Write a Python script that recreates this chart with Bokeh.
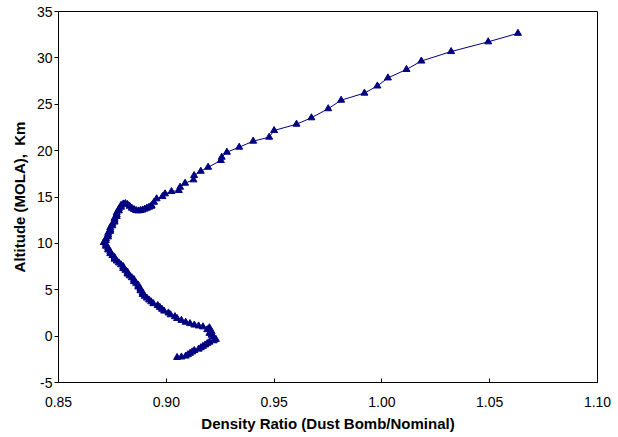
from bokeh.plotting import figure
from bokeh.models import FixedTicker, Range1d, NumeralTickFormatter, ColumnDataSource
from bokeh.embed import file_html
from bokeh.resources import INLINE

# Values (density ratio, altitude in km), ordered along the curve
density_ratio = [
    0.905, 0.907, 0.909, 0.910, 0.911, 0.912, 0.913, 0.915, 0.916, 0.917,
    0.918, 0.919, 0.920, 0.922, 0.923,
    0.922, 0.921, 0.920, 0.921, 0.919, 0.920, 0.917, 0.915, 0.913, 0.911,
    0.909, 0.907, 0.905, 0.904, 0.902, 0.901, 0.899, 0.898, 0.897, 0.896,
    0.894, 0.893, 0.892, 0.891, 0.890, 0.889, 0.889, 0.888, 0.888, 0.887,
    0.887, 0.886, 0.885, 0.885, 0.884, 0.883, 0.882, 0.882, 0.881, 0.880,
    0.880, 0.879, 0.878, 0.877, 0.876, 0.876, 0.875, 0.874, 0.874, 0.873,
    0.873, 0.872, 0.872, 0.871, 0.872, 0.872, 0.873, 0.873, 0.873, 0.874,
    0.874, 0.874, 0.875, 0.875, 0.876, 0.876, 0.876, 0.877, 0.877, 0.877,
    0.878, 0.878, 0.879, 0.879, 0.880, 0.881, 0.882, 0.883, 0.884, 0.885,
    0.886, 0.887, 0.888, 0.889, 0.890, 0.891, 0.892, 0.893,
    0.8932, 0.8943, 0.8955, 0.8982, 0.8994, 0.9024, 0.9058, 0.9064, 0.9087,
    0.9126, 0.9129, 0.9160, 0.9194, 0.9253, 0.9257, 0.9281, 0.9338, 0.9403,
    0.9477, 0.9500, 0.9604, 0.9673, 0.9751, 0.9811, 0.9919, 0.9979, 1.0028,
    1.0114, 1.0183, 1.0321, 1.0493, 1.0631,
]
altitude = [
    -2.3, -2.25, -2.15, -2.0, -1.85, -1.7, -1.55, -1.4, -1.25, -1.1,
    -0.95, -0.8, -0.65, -0.5, -0.35,
    -0.1, 0.1, 0.3, 0.5, 0.7, 0.9, 1.0, 1.1, 1.2, 1.35,
    1.5, 1.7, 1.9, 2.1, 2.3, 2.5, 2.7, 2.9, 3.1, 3.3,
    3.5, 3.7, 3.9, 4.1, 4.3, 4.5, 4.7, 4.9, 5.1, 5.3,
    5.5, 5.7, 5.9, 6.1, 6.3, 6.5, 6.7, 6.9, 7.1, 7.3,
    7.5, 7.7, 7.9, 8.1, 8.3, 8.5, 8.7, 8.9, 9.1, 9.3,
    9.5, 9.7, 9.9, 10.1, 10.3, 10.5, 10.7, 10.9, 11.1, 11.3,
    11.5, 11.7, 11.9, 12.1, 12.3, 12.5, 12.7, 12.9, 13.1, 13.3,
    13.5, 13.7, 13.9, 14.1, 14.25, 14.3, 14.2, 14.0, 13.8, 13.65,
    13.55, 13.5, 13.55, 13.6, 13.7, 13.8, 13.9, 14.0,
    14.08, 14.44, 14.81, 15.05, 15.34, 15.59, 15.70, 16.06, 16.49,
    16.85, 17.32, 17.78, 18.21, 18.94, 19.29, 19.83, 20.37, 21.02,
    21.45, 22.17, 22.85, 23.54, 24.52, 25.44, 26.20, 26.97, 27.84,
    28.75, 29.66, 30.68, 31.73, 32.65,
]
x_ticks = [0.85, 0.90, 0.95, 1.00, 1.05, 1.10]
y_ticks = [-5, 0, 5, 10, 15, 20, 25, 30, 35]

src = ColumnDataSource(data=dict(x=density_ratio, y=altitude))

p = figure(width=618, height=437, output_backend="svg", toolbar_location=None,
           x_range=Range1d(0.85, 1.10), y_range=Range1d(-5, 35),
           min_border_left=58, min_border_right=21, min_border_top=11,
           min_border_bottom=55, background_fill_color="white",
           border_fill_color="white")

p.xgrid.visible = False
p.ygrid.visible = False
p.outline_line_color = "black"
p.outline_line_width = 1

p.line("x", "y", source=src, line_color="#000080", line_width=1)
p.scatter("x", "y", source=src, marker="triangle", size=7,
          fill_color="#000080", line_color="#000080")

font = "Liberation Sans"
p.xaxis.ticker = FixedTicker(ticks=x_ticks)
p.yaxis.ticker = FixedTicker(ticks=y_ticks)
p.xaxis.formatter = NumeralTickFormatter(format="0.00")
p.yaxis.formatter = NumeralTickFormatter(format="0")

p.xaxis.axis_label = "Density Ratio (Dust Bomb/Nominal)"
p.yaxis.axis_label = "Altitude (MOLA),\u00a0 Km"

for ax in (p.xaxis, p.yaxis):
    ax.axis_line_color = "black"
    ax.major_tick_line_color = "black"
    ax.minor_tick_line_color = None
    ax.major_label_text_font = font
    ax.major_label_text_font_size = "14px"
    ax.major_label_text_color = "black"
    ax.axis_label_text_font = font
    ax.axis_label_text_font_size = "15px"
    ax.axis_label_text_font_style = "bold"
    ax.axis_label_text_color = "black"

p.xaxis.major_tick_in = 4
p.xaxis.major_tick_out = 0
p.xaxis.major_label_standoff = 14
p.xaxis.axis_label_standoff = 5

p.yaxis.major_tick_in = 0
p.yaxis.major_tick_out = 4
p.yaxis.major_label_standoff = 2
p.yaxis.axis_label_standoff = 6

open("out.html", "w").write(file_html(p, INLINE))
